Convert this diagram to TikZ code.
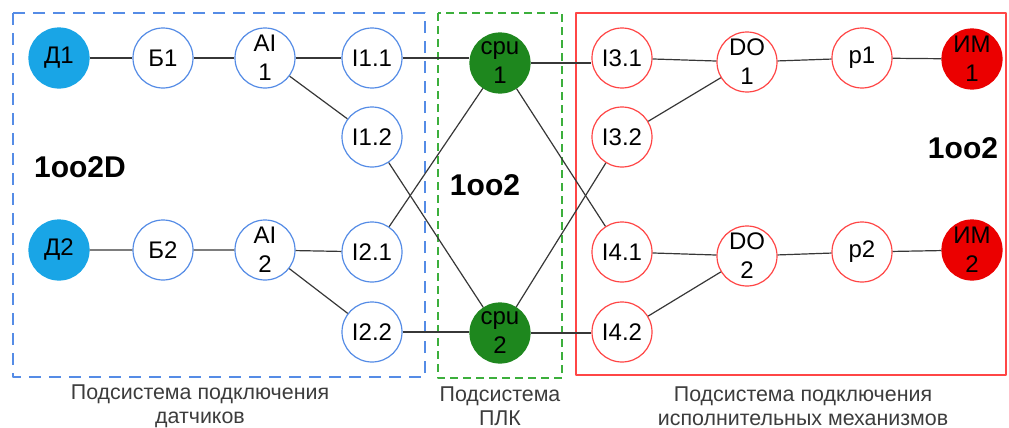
\documentclass[tikz,border=0pt]{standalone}
\usepackage{fontspec}
\setmainfont{Liberation Sans}
\definecolor{sensblue}{RGB}{25,165,230}
\definecolor{ringblue}{RGB}{85,140,230}
\definecolor{cpugreen}{RGB}{30,135,30}
\definecolor{boxgreen}{RGB}{60,175,60}
\definecolor{actred}{RGB}{235,0,0}
\definecolor{ringred}{RGB}{255,70,70}
\definecolor{wire}{RGB}{55,55,55}
\definecolor{captxt}{RGB}{60,60,60}
\begin{document}
\begin{tikzpicture}[x=0.5pt,y=-0.5pt,line join=round,font=\fontsize{12}{14.5}\selectfont,
	nd/.style={circle,draw,fill=white,minimum size=30pt,inner sep=0pt,align=center,line width=0.6pt},
	bnd/.style={nd,draw=ringblue},
	rnd/.style={nd,draw=ringred},
	wirestyle/.style={wire,line width=0.6pt},
	captext/.style={align=center,text=captxt,font=\fontsize{10.7}{11.8}\selectfont},
	bigtext/.style={font=\fontsize{15}{17}\selectfont\bfseries}]
	\useasboundingbox (0,0) rectangle (1009,428);
	% subsystem boxes
	\draw[ringblue,line width=0.8pt,dash pattern=on 6pt off 4pt] (13,13) rectangle (425,377);
	\draw[boxgreen,line width=0.8pt,dash pattern=on 4pt off 2.5pt] (438,13) rectangle (562,378);
	\draw[ringred,line width=0.8pt] (576,13) rectangle (1006,375);
	% sensors
	\node[nd,draw=sensblue,fill=sensblue] (d1) at (59,58) {Д1};
	\node[bnd] (b1) at (163,58) {Б1};
	\node[bnd] (ai1) at (265,58) {AI\\1};
	\node[bnd] (i11) at (372,58) {I1.1};
	\node[bnd] (i12) at (372,137) {I1.2};
	\node[nd,draw=sensblue,fill=sensblue] (d2) at (59,250) {Д2};
	\node[bnd] (b2) at (163,250) {Б2};
	\node[bnd] (ai2) at (265,250) {AI\\2};
	\node[bnd] (i21) at (372,252) {I2.1};
	\node[bnd] (i22) at (372,332) {I2.2};
	% plc
	\node[nd,draw=cpugreen,fill=cpugreen] (cpu1) at (500,63) {cpu\\1};
	\node[nd,draw=cpugreen,fill=cpugreen] (cpu2) at (500,333) {cpu\\2};
	% actuators
	\node[rnd] (i31) at (622,58) {I3.1};
	\node[rnd] (i32) at (622,137) {I3.2};
	\node[rnd] (do1) at (747,62) {DO\\1};
	\node[rnd] (p1) at (862,58) {p1};
	\node[nd,draw=actred,fill=actred] (im1) at (972,59) {ИМ\\1};
	\node[rnd] (i41) at (622,252) {I4.1};
	\node[rnd] (i42) at (622,332) {I4.2};
	\node[rnd] (do2) at (747,256) {DO\\2};
	\node[rnd] (p2) at (862,252) {p2};
	\node[nd,draw=actred,fill=actred] (im2) at (972,250) {ИМ\\2};
	% connections
	\draw[wirestyle] (d1)--(b1)--(ai1)--(i11);
	\draw[wirestyle] (ai1)--(i12);
	\draw[wirestyle] (d2)--(b2)--(ai2)--(i21);
	\draw[wirestyle] (ai2)--(i22);
	\draw[wirestyle] (i11)--(i11-|cpu1.west);
	\draw[wirestyle] (i12)--(cpu2);
	\draw[wirestyle] (i21)--(cpu1);
	\draw[wirestyle] (i22)--(i22-|cpu2.west);
	\draw[wirestyle] (cpu1.east)--(cpu1.east-|i31.west);
	\draw[wirestyle] (cpu1)--(i41);
	\draw[wirestyle] (cpu2)--(i32);
	\draw[wirestyle] (cpu2.east)--(cpu2.east-|i42.west);
	\draw[wirestyle] (i31)--(do1);
	\draw[wirestyle] (i32)--(do1);
	\draw[wirestyle] (i41)--(do2);
	\draw[wirestyle] (i42)--(do2);
	\draw[wirestyle] (do1)--(p1)--(im1);
	\draw[wirestyle] (do2)--(p2)--(im2);
	% labels
	\node[bigtext] (lbl1) at (80,167) {1oo2D};
	\node[bigtext] (lbl2) at (485,185) {1oo2};
	\node[bigtext] (lbl3) at (963,148) {1oo2};
	\node[captext] (cap1) at (200,406) {Подсистема подключения\\датчиков};
	\node[captext] (cap2) at (500,406) {Подсистема\\ПЛК};
	\node[captext] (cap3) at (803,406) {Подсистема подключения\\исполнительных механизмов};
\end{tikzpicture}
\end{document}
